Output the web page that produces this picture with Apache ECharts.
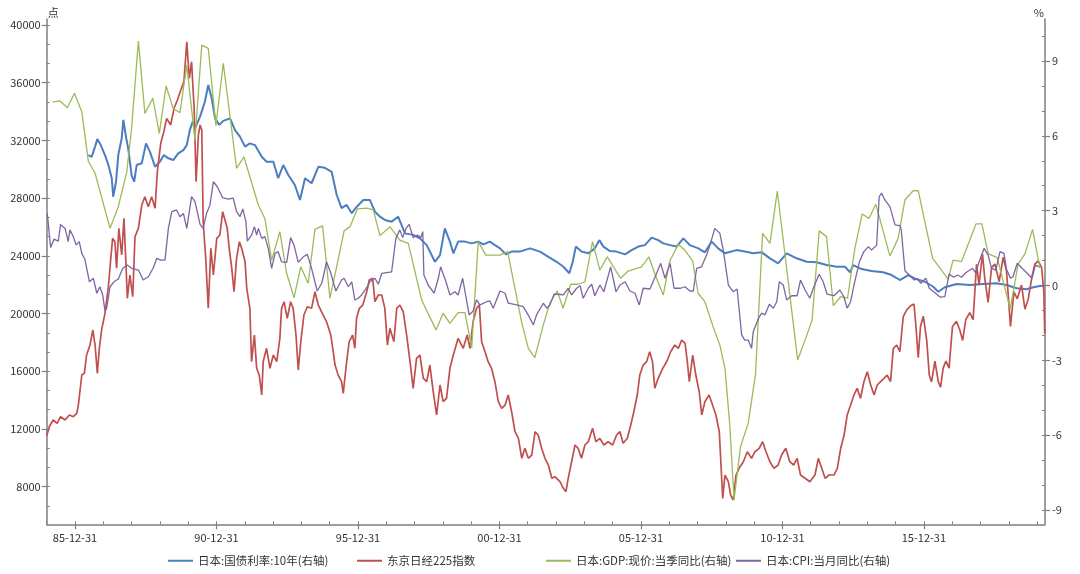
<!DOCTYPE html>
<html><head><meta charset="utf-8">
<script src="https://cdn.jsdelivr.net/npm/echarts@6/dist/echarts.min.js"></script>
<style>html,body{margin:0;padding:0;background:#fff}#c{width:1080px;height:574px}</style>
</head><body><div id="c"></div>
<script>
// [decimal year, value]  (x ticks sit at 12-31, i.e. year N.0 = (N-1)-12-31)
const bondData = [[1986.47,5.23],[1986.59,5.16],[1986.71,5.57],[1986.79,5.87],[1986.91,5.63],[1987.06,5.23],[1987.18,4.83],[1987.30,4.30],[1987.35,3.56],[1987.45,4.16],[1987.53,5.23],[1987.65,5.90],[1987.71,6.64],[1987.80,5.97],[1987.88,5.50],[1988.00,4.43],[1988.09,4.16],[1988.18,4.83],[1988.36,4.90],[1988.51,5.70],[1988.65,5.36],[1988.83,4.76],[1989.00,4.96],[1989.14,5.23],[1989.30,5.10],[1989.47,5.03],[1989.65,5.30],[1989.83,5.43],[1989.95,5.63],[1990.06,6.24],[1990.16,6.57],[1990.24,6.30],[1990.42,6.77],[1990.59,7.37],[1990.71,8.04],[1990.83,7.51],[1990.95,6.70],[1991.10,6.44],[1991.24,6.60],[1991.48,6.70],[1991.65,6.24],[1991.83,5.97],[1992.01,5.57],[1992.18,5.70],[1992.36,5.63],[1992.60,5.16],[1992.77,4.96],[1993.01,4.96],[1993.18,4.30],[1993.36,4.83],[1993.54,4.43],[1993.77,4.03],[1993.95,3.43],[1994.13,4.30],[1994.36,4.10],[1994.60,4.76],[1994.83,4.72],[1995.07,4.56],[1995.25,3.63],[1995.42,3.10],[1995.60,3.23],[1995.78,2.90],[1995.96,3.16],[1996.19,3.43],[1996.42,3.43],[1996.60,2.96],[1996.78,2.76],[1996.95,2.63],[1997.19,2.56],[1997.42,2.76],[1997.66,2.09],[1997.95,2.03],[1998.19,1.89],[1998.43,1.62],[1998.72,0.95],[1998.90,1.22],[1999.07,2.29],[1999.25,1.76],[1999.37,1.29],[1999.54,1.76],[1999.78,1.76],[2000.02,1.69],[2000.25,1.76],[2000.43,1.65],[2000.66,1.76],[2000.84,1.62],[2001.02,1.49],[2001.23,1.25],[2001.43,1.36],[2001.72,1.36],[2002.08,1.49],[2002.43,1.36],[2002.73,1.15],[2003.02,0.95],[2003.26,0.75],[2003.47,0.49],[2003.59,0.95],[2003.70,1.56],[2003.90,1.36],[2004.14,1.29],[2004.37,1.49],[2004.53,1.82],[2004.67,1.56],[2004.91,1.38],[2005.14,1.36],[2005.44,1.25],[2005.67,1.42],[2005.91,1.56],[2006.14,1.62],[2006.38,1.92],[2006.61,1.82],[2006.79,1.69],[2007.03,1.62],[2007.26,1.56],[2007.50,1.89],[2007.73,1.62],[2008.03,1.49],[2008.26,1.33],[2008.50,1.76],[2008.73,1.49],[2008.97,1.29],[2009.38,1.42],[2009.67,1.36],[2009.97,1.29],[2010.27,1.33],[2010.56,1.09],[2010.85,0.89],[2011.15,1.29],[2011.50,1.09],[2011.86,0.95],[2012.21,0.93],[2012.56,0.82],[2012.92,0.75],[2013.21,0.75],[2013.39,0.53],[2013.50,0.82],[2013.80,0.66],[2014.15,0.58],[2014.56,0.53],[2014.86,0.42],[2015.15,0.22],[2015.45,0.42],[2015.74,0.25],[2016.04,0.15],[2016.33,-0.05],[2016.51,-0.25],[2016.74,-0.07],[2017.16,0.06],[2017.63,0.02],[2018.10,0.06],[2018.57,0.09],[2018.92,0.02],[2019.28,-0.11],[2019.63,-0.15],[2019.87,-0.07],[2020.10,-0.02],[2020.25,0.00]];

const nikkeiData = [[1985.00,11530],[1985.09,12154],[1985.23,12619],[1985.37,12390],[1985.49,12847],[1985.65,12619],[1985.80,12965],[1985.94,12847],[1986.06,13083],[1986.12,13658],[1986.24,15738],[1986.33,15856],[1986.41,17124],[1986.53,17818],[1986.63,18857],[1986.71,17818],[1986.79,15856],[1986.86,17589],[1986.94,18857],[1987.06,20015],[1987.18,21859],[1987.26,23710],[1987.33,25214],[1987.41,24978],[1987.47,23134],[1987.55,25907],[1987.65,24056],[1987.73,26600],[1987.80,23481],[1987.85,21055],[1987.94,22670],[1988.04,21166],[1988.12,25325],[1988.24,25907],[1988.36,27522],[1988.47,28098],[1988.59,27405],[1988.71,28098],[1988.83,27294],[1988.91,29831],[1989.03,31799],[1989.14,32604],[1989.24,33532],[1989.38,33068],[1989.50,34226],[1989.62,34801],[1989.74,35494],[1989.85,36070],[1989.95,38842],[1990.04,36305],[1990.12,37456],[1990.21,34226],[1990.28,29137],[1990.36,32375],[1990.42,33068],[1990.48,32721],[1990.53,26365],[1990.62,23827],[1990.71,20361],[1990.80,24521],[1990.89,22670],[1991.01,25214],[1991.12,25443],[1991.22,27058],[1991.30,26483],[1991.38,25907],[1991.45,24521],[1991.54,23134],[1991.62,21512],[1991.71,23827],[1991.81,24978],[1991.89,24521],[1992.01,23592],[1992.07,21748],[1992.18,20361],[1992.24,16660],[1992.34,18511],[1992.42,16202],[1992.51,15738],[1992.60,14352],[1992.65,16660],[1992.77,17589],[1992.89,16202],[1993.01,17124],[1993.13,16660],[1993.24,18282],[1993.30,20361],[1993.39,20819],[1993.50,19668],[1993.62,20819],[1993.71,20361],[1993.81,18511],[1993.89,16085],[1993.98,18046],[1994.09,19897],[1994.21,20472],[1994.36,20361],[1994.48,21512],[1994.60,20590],[1994.77,19897],[1994.89,19433],[1995.04,18511],[1995.11,17589],[1995.19,16431],[1995.30,15738],[1995.42,15274],[1995.48,14470],[1995.60,16660],[1995.69,18046],[1995.81,18511],[1995.89,17589],[1995.95,19668],[1996.05,20361],[1996.17,20590],[1996.31,21512],[1996.40,22323],[1996.52,22441],[1996.60,20819],[1996.72,21284],[1996.84,21284],[1996.95,20361],[1997.04,17818],[1997.13,18975],[1997.27,18046],[1997.37,20361],[1997.48,20590],[1997.60,20126],[1997.72,18511],[1997.84,16660],[1997.95,14816],[1998.07,16895],[1998.19,17124],[1998.31,15509],[1998.43,15274],[1998.54,16431],[1998.66,14580],[1998.78,12965],[1998.90,15045],[1999.01,13887],[1999.13,14122],[1999.25,16202],[1999.37,17124],[1999.54,18282],[1999.72,17589],[1999.86,18511],[1999.96,17589],[2000.07,19433],[2000.19,20361],[2000.29,20590],[2000.37,18046],[2000.49,17353],[2000.60,16660],[2000.72,16202],[2000.84,15274],[2000.96,13887],[2001.08,13429],[2001.20,13658],[2001.31,14352],[2001.43,13194],[2001.55,11808],[2001.67,11350],[2001.79,9963],[2001.90,10657],[2002.02,9963],[2002.14,10192],[2002.26,11808],[2002.37,11579],[2002.49,10657],[2002.61,9963],[2002.73,9499],[2002.85,8578],[2002.96,8688],[2003.14,8342],[2003.26,7883],[2003.35,7648],[2003.43,8578],[2003.55,9728],[2003.67,10886],[2003.78,10657],[2003.90,9963],[2004.02,10886],[2004.14,11114],[2004.29,12043],[2004.41,11114],[2004.55,11350],[2004.69,10886],[2004.84,11114],[2005.00,10886],[2005.14,11579],[2005.26,11808],[2005.37,11003],[2005.52,11350],[2005.64,12272],[2005.75,13194],[2005.87,14352],[2005.96,15738],[2006.08,16431],[2006.20,16660],[2006.31,17353],[2006.41,16660],[2006.49,14816],[2006.61,15509],[2006.77,16202],[2006.91,16660],[2007.05,17353],[2007.20,17818],[2007.32,17589],[2007.44,18164],[2007.56,17935],[2007.64,16660],[2007.71,15274],[2007.83,17124],[2007.94,15738],[2008.06,14580],[2008.15,12965],[2008.26,13887],[2008.41,14352],[2008.53,13658],[2008.65,12965],[2008.77,11808],[2008.83,9499],[2008.89,7190],[2008.97,8806],[2009.09,8342],[2009.17,7420],[2009.26,7073],[2009.36,8806],[2009.47,9270],[2009.62,9728],[2009.76,10421],[2009.91,9963],[2010.03,10421],[2010.18,10657],[2010.30,11114],[2010.42,10421],[2010.56,9728],[2010.70,9270],[2010.85,9499],[2010.97,10192],[2011.12,10657],[2011.26,9728],[2011.40,9499],[2011.52,9963],[2011.64,8806],[2011.80,8578],[2011.97,8342],[2012.15,8806],[2012.27,9963],[2012.39,9270],[2012.51,8578],[2012.65,8806],[2012.82,8806],[2012.94,9270],[2013.06,10657],[2013.18,11579],[2013.29,12965],[2013.41,13658],[2013.53,14352],[2013.64,14816],[2013.76,14122],[2013.88,15274],[2014.00,15966],[2014.12,15045],[2014.24,14352],[2014.35,15045],[2014.47,15274],[2014.59,15509],[2014.70,15738],[2014.82,15274],[2014.92,17589],[2015.04,17818],[2015.15,17353],[2015.27,19779],[2015.39,20244],[2015.53,20535],[2015.65,20660],[2015.72,19100],[2015.80,16937],[2015.88,19100],[2015.98,19821],[2016.10,18136],[2016.19,15738],[2016.27,15260],[2016.39,16701],[2016.51,15260],[2016.59,14899],[2016.68,16216],[2016.78,16701],[2016.89,16216],[2017.01,19100],[2017.15,19460],[2017.27,18857],[2017.37,18136],[2017.48,19578],[2017.62,20057],[2017.74,19578],[2017.86,23419],[2017.95,21977],[2018.07,24140],[2018.15,22462],[2018.27,20777],[2018.39,23176],[2018.51,23419],[2018.66,22219],[2018.80,23897],[2018.92,22940],[2019.06,19100],[2019.18,21498],[2019.30,21020],[2019.45,21977],[2019.57,20299],[2019.69,21020],[2019.81,22462],[2019.92,23419],[2020.04,23654],[2020.16,23176],[2020.24,21498],[2020.27,18622]];

const gdpData = [[1985.21,7.35],[1985.47,7.40],[1985.73,7.13],[1985.98,7.71],[1986.24,6.97],[1986.47,4.99],[1986.71,4.50],[1987.24,2.29],[1987.53,3.16],[1987.83,4.56],[1988.00,6.30],[1988.24,9.80],[1988.47,6.90],[1988.75,7.51],[1988.98,6.10],[1989.22,8.00],[1989.47,7.10],[1989.71,6.93],[1989.95,8.84],[1990.24,5.83],[1990.48,9.64],[1990.71,9.51],[1990.98,6.41],[1991.24,8.91],[1991.71,4.70],[1991.97,5.16],[1992.48,3.23],[1992.71,2.69],[1992.95,1.02],[1993.24,2.16],[1993.48,0.49],[1993.74,-0.49],[1993.98,0.75],[1994.24,0.09],[1994.48,2.25],[1994.75,2.39],[1995.01,-0.51],[1995.26,0.82],[1995.51,2.19],[1995.72,2.36],[1995.98,3.07],[1996.31,3.10],[1996.54,3.03],[1996.78,2.00],[1997.13,2.36],[1997.48,1.82],[1997.78,1.69],[1998.25,-0.58],[1998.76,-1.78],[1999.01,-1.11],[1999.25,-1.52],[1999.54,-1.09],[1999.78,-1.09],[2000.02,-2.49],[2000.25,1.76],[2000.52,1.22],[2001.02,1.22],[2001.29,1.36],[2001.78,-1.45],[2002.02,-2.52],[2002.25,-2.89],[2002.55,-1.58],[2002.78,-0.71],[2003.04,-0.22],[2003.25,-0.91],[2003.52,0.05],[2003.78,0.05],[2004.02,0.15],[2004.29,1.76],[2004.55,0.62],[2004.81,1.15],[2005.28,0.29],[2005.55,0.58],[2006.02,0.75],[2006.28,1.15],[2006.53,0.35],[2006.79,-0.38],[2007.02,0.98],[2007.32,1.65],[2007.55,1.42],[2007.83,0.98],[2008.02,-0.31],[2008.26,-0.65],[2008.55,-1.65],[2008.79,-2.39],[2008.97,-3.32],[2009.14,-5.59],[2009.29,-8.60],[2009.52,-6.46],[2009.79,-5.53],[2010.05,-3.56],[2010.30,2.09],[2010.56,1.69],[2010.82,3.79],[2011.54,-2.99],[2011.80,-2.19],[2012.05,-1.38],[2012.30,2.19],[2012.56,1.96],[2012.80,-0.81],[2013.06,-0.45],[2013.30,-0.51],[2013.56,1.49],[2013.82,2.87],[2014.06,2.69],[2014.30,3.26],[2014.80,1.18],[2015.09,1.89],[2015.33,3.43],[2015.62,3.80],[2015.80,3.80],[2016.31,1.09],[2016.86,0.26],[2017.03,1.02],[2017.33,0.96],[2017.84,2.47],[2018.05,2.47],[2018.27,1.28],[2018.59,1.12],[2019.05,-0.94],[2019.33,0.86],[2019.57,1.27],[2019.84,2.25],[2020.10,0.70]];

const cpiData = [[1985.02,2.89],[1985.14,1.52],[1985.26,1.86],[1985.41,1.78],[1985.49,2.45],[1985.65,2.29],[1985.76,1.76],[1985.82,2.23],[1985.94,1.96],[1986.04,1.62],[1986.15,1.76],[1986.24,1.29],[1986.35,1.05],[1986.51,0.15],[1986.65,0.29],[1986.77,-0.31],[1986.88,-0.05],[1986.98,-0.38],[1987.06,-1.02],[1987.12,-0.91],[1987.24,-0.05],[1987.38,0.15],[1987.53,0.26],[1987.69,0.69],[1987.85,0.82],[1988.00,0.69],[1988.24,0.62],[1988.41,0.22],[1988.59,0.35],[1988.77,0.71],[1988.89,1.09],[1989.03,1.02],[1989.18,1.02],[1989.30,2.29],[1989.42,2.96],[1989.59,3.03],[1989.71,2.76],[1989.83,2.89],[1989.95,2.29],[1990.12,3.56],[1990.24,3.36],[1990.42,2.45],[1990.53,2.29],[1990.65,2.89],[1990.77,3.23],[1990.89,4.16],[1991.03,3.96],[1991.22,3.52],[1991.42,3.46],[1991.59,3.50],[1991.71,2.96],[1991.83,2.76],[1991.93,3.07],[1992.04,2.56],[1992.09,1.78],[1992.24,2.02],[1992.34,2.36],[1992.42,2.02],[1992.48,2.29],[1992.60,1.89],[1992.71,1.96],[1992.83,1.49],[1992.95,0.69],[1993.07,1.29],[1993.18,1.36],[1993.30,0.95],[1993.48,0.93],[1993.62,1.92],[1993.74,1.62],[1993.89,0.93],[1994.07,1.15],[1994.21,1.25],[1994.36,0.69],[1994.56,-0.22],[1994.72,0.09],[1994.89,0.95],[1995.04,0.49],[1995.22,-0.22],[1995.42,0.22],[1995.51,0.29],[1995.66,-0.05],[1995.78,0.15],[1995.89,-0.58],[1996.01,-0.51],[1996.13,-0.38],[1996.31,-0.09],[1996.42,0.15],[1996.60,0.29],[1996.72,0.05],[1996.84,0.49],[1997.19,0.55],[1997.25,0.49],[1997.34,1.89],[1997.48,2.23],[1997.58,1.92],[1997.70,2.29],[1997.81,2.45],[1997.95,1.92],[1998.10,2.02],[1998.22,1.92],[1998.29,2.16],[1998.33,0.42],[1998.48,0.02],[1998.69,-0.31],[1998.84,0.29],[1998.92,0.75],[1999.11,0.15],[1999.25,-0.38],[1999.43,-0.25],[1999.54,-0.38],[1999.70,0.29],[1999.93,-1.18],[2000.07,-1.02],[2000.19,-0.58],[2000.31,-0.78],[2000.55,-0.65],[2000.66,-0.62],[2000.78,-0.91],[2001.02,-0.22],[2001.20,-0.31],[2001.31,-0.71],[2001.61,-0.78],[2001.84,-0.85],[2002.05,-1.25],[2002.20,-1.58],[2002.31,-1.18],[2002.55,-0.71],[2002.67,-0.91],[2002.78,-0.78],[2002.93,-0.35],[2003.08,-0.35],[2003.26,-0.38],[2003.43,-0.11],[2003.55,-0.38],[2003.73,-0.11],[2003.85,-0.01],[2003.96,-0.51],[2004.14,-0.11],[2004.26,0.05],[2004.37,-0.41],[2004.55,0.02],[2004.69,-0.25],[2004.93,0.75],[2005.12,-0.25],[2005.26,0.02],[2005.44,0.15],[2005.61,-0.22],[2005.79,-0.31],[2005.94,-0.78],[2006.08,-0.11],[2006.32,-0.14],[2006.53,0.42],[2006.70,0.89],[2006.85,0.29],[2007.03,0.89],[2007.17,-0.11],[2007.40,-0.11],[2007.56,-0.05],[2007.73,-0.22],[2007.85,-0.22],[2007.97,0.69],[2008.14,0.75],[2008.32,1.22],[2008.44,1.62],[2008.61,2.29],[2008.79,2.09],[2008.91,1.42],[2009.09,0.02],[2009.26,-0.25],[2009.40,-0.14],[2009.56,-1.98],[2009.67,-2.19],[2009.79,-2.19],[2009.91,-2.52],[2009.97,-1.85],[2010.15,-1.32],[2010.27,-1.11],[2010.38,-1.18],[2010.54,-0.75],[2010.68,-0.91],[2010.80,-0.65],[2010.89,0.15],[2011.03,0.02],[2011.15,-0.58],[2011.33,-0.41],[2011.52,-0.41],[2011.64,0.22],[2011.80,-0.18],[2011.97,-0.51],[2012.09,-0.11],[2012.30,0.45],[2012.44,0.15],[2012.58,-0.35],[2012.82,-0.41],[2013.03,-0.18],[2013.17,-0.45],[2013.29,-0.91],[2013.41,-0.65],[2013.53,0.02],[2013.72,0.95],[2013.88,1.36],[2014.04,1.56],[2014.15,1.42],[2014.33,1.62],[2014.42,3.56],[2014.51,3.70],[2014.62,3.43],[2014.80,3.16],[2014.98,2.43],[2015.16,2.40],[2015.20,2.23],[2015.33,0.59],[2015.48,0.42],[2015.66,0.22],[2015.77,0.29],[2015.89,0.09],[2016.07,0.29],[2016.19,-0.11],[2016.39,-0.29],[2016.58,-0.47],[2016.74,-0.45],[2016.89,0.46],[2017.05,0.33],[2017.19,0.42],[2017.33,0.33],[2017.48,0.51],[2017.72,0.69],[2017.83,0.51],[2017.95,0.95],[2018.13,1.49],[2018.27,1.22],[2018.39,0.69],[2018.54,0.62],[2018.69,1.36],[2018.83,1.29],[2018.92,0.65],[2019.06,0.29],[2019.15,0.35],[2019.30,0.89],[2019.47,0.69],[2019.65,0.49],[2019.82,0.29],[2019.94,0.82],[2020.06,0.75]];

const seriesNames = ['日本:国债利率:10年(右轴)', '东京日经225指数', '日本:GDP:现价:当季同比(右轴)', '日本:CPI:当月同比(右轴)'];
const seriesColors = ['#4A7EC0', '#C0504D', '#9BBB59', '#8064A2'];
const xLabelYears = [1986, 1991, 1996, 2001, 2006, 2011, 2016];
const leftLabels = [8000, 12000, 16000, 20000, 24000, 28000, 32000, 36000, 40000];
const rightLabels = [-9, -6, -3, 0, 3, 6, 9];
const X_MIN = 1985, X_MAX = 2020.28;
const L_MIN = 5390, L_MAX = 40416;
const R_MIN = -9.575, R_MAX = 10.686;

const yearTicks = []; for (let y = 1985; y <= 2020; y++) yearTicks.push(y);
const leftMinor = []; for (let k = -1; k <= 24; k++) leftMinor.push(8000 + k * 4000 / 3);
const rightMinor = []; for (let v = -9; v <= 10; v++) rightMinor.push(v);

const AX = '#7f7f7f';
const TXT = '#333333';
const FONT = '"Noto Sans CJK SC","Noto Sans",sans-serif';
const legendLefts = [168, 357, 546, 736];

const chart = echarts.init(document.getElementById('c'), null, { renderer: 'canvas' });
const baseX = { type: 'value', min: X_MIN, max: X_MAX, position: 'bottom', splitLine: { show: false } };
const baseL = { type: 'value', min: L_MIN, max: L_MAX, position: 'left', splitLine: { show: false } };
const baseR = { type: 'value', min: R_MIN, max: R_MAX, position: 'right', splitLine: { show: false } };

chart.setOption({
  animation: false,
  backgroundColor: '#ffffff',
  textStyle: { fontFamily: FONT },
  grid: { left: 46.7, right: 35, top: 19, bottom: 49.7, containLabel: false },
  legend: seriesNames.map((n, i) => ({
    data: [n],
    left: legendLefts[i], top: 555, padding: 0,
    icon: 'rect', itemWidth: 25, itemHeight: 2, itemGap: 0,
    textStyle: { color: TXT, fontSize: 11.5, fontFamily: FONT }
  })),
  xAxis: [
    Object.assign({}, baseX, {
      axisLine: { onZero: false, lineStyle: { color: AX, width: 1.5 } },
      axisTick: { show: true, inside: true, length: 3, customValues: yearTicks, lineStyle: { color: AX } },
      axisLabel: { show: false }
    }),
    Object.assign({}, baseX, {
      axisLine: { show: false, onZero: false },
      axisTick: { show: true, length: 5, customValues: xLabelYears, lineStyle: { color: AX, width: 1.2 } },
      axisLabel: {
        customValues: xLabelYears, color: TXT, fontSize: 11, margin: 8,
        formatter: v => String((Math.round(v) - 1) % 100).padStart(2, '0') + '-12-31'
      }
    })
  ],
  yAxis: [
    Object.assign({}, baseL, {
      name: '点', nameLocation: 'end', nameGap: 1,
      nameTextStyle: { color: TXT, fontSize: 11, align: 'left', padding: [0, 0, 0, 1] },
      axisLine: { show: true, onZero: false, lineStyle: { color: AX, width: 1.5 } },
      axisTick: { show: true, length: 5, customValues: leftLabels, lineStyle: { color: AX, width: 1.2 } },
      axisLabel: { customValues: leftLabels, color: TXT, fontSize: 11, margin: 6, formatter: v => String(Math.round(v)) }
    }),
    Object.assign({}, baseR, {
      name: '%', nameLocation: 'end', nameGap: 1,
      nameTextStyle: { color: TXT, fontSize: 11, align: 'right', padding: [0, 1, 0, 0] },
      axisLine: { show: true, onZero: false, lineStyle: { color: AX, width: 1.5 } },
      axisTick: { show: true, length: 5, customValues: rightLabels, lineStyle: { color: AX, width: 1.2 } },
      axisLabel: { customValues: rightLabels, color: TXT, fontSize: 11, margin: 7, formatter: v => String(Math.round(v)) }
    }),
    Object.assign({}, baseL, {
      axisLine: { show: false, onZero: false },
      axisTick: { show: true, inside: true, length: 3, customValues: leftMinor, lineStyle: { color: AX } },
      axisLabel: { show: false }
    }),
    Object.assign({}, baseR, {
      axisLine: { show: false, onZero: false },
      axisTick: { show: true, inside: true, length: 3, customValues: rightMinor, lineStyle: { color: AX } },
      axisLabel: { show: false }
    })
  ],
  series: [
    { name: seriesNames[0], type: 'line', xAxisIndex: 0, yAxisIndex: 1, data: bondData, showSymbol: false, symbol: 'none', lineStyle: { color: seriesColors[0], width: 2 }, itemStyle: { color: seriesColors[0] } },
    { name: seriesNames[1], type: 'line', xAxisIndex: 0, yAxisIndex: 0, data: nikkeiData, showSymbol: false, symbol: 'none', lineStyle: { color: seriesColors[1], width: 1.7 }, itemStyle: { color: seriesColors[1] } },
    { name: seriesNames[2], type: 'line', xAxisIndex: 0, yAxisIndex: 1, data: gdpData, showSymbol: false, symbol: 'none', lineStyle: { color: seriesColors[2], width: 1.3 }, itemStyle: { color: seriesColors[2] } },
    { name: seriesNames[3], type: 'line', xAxisIndex: 0, yAxisIndex: 1, data: cpiData, showSymbol: false, symbol: 'none', lineStyle: { color: seriesColors[3], width: 1.3 }, itemStyle: { color: seriesColors[3] } }
  ]
});
</script>
</body></html>
